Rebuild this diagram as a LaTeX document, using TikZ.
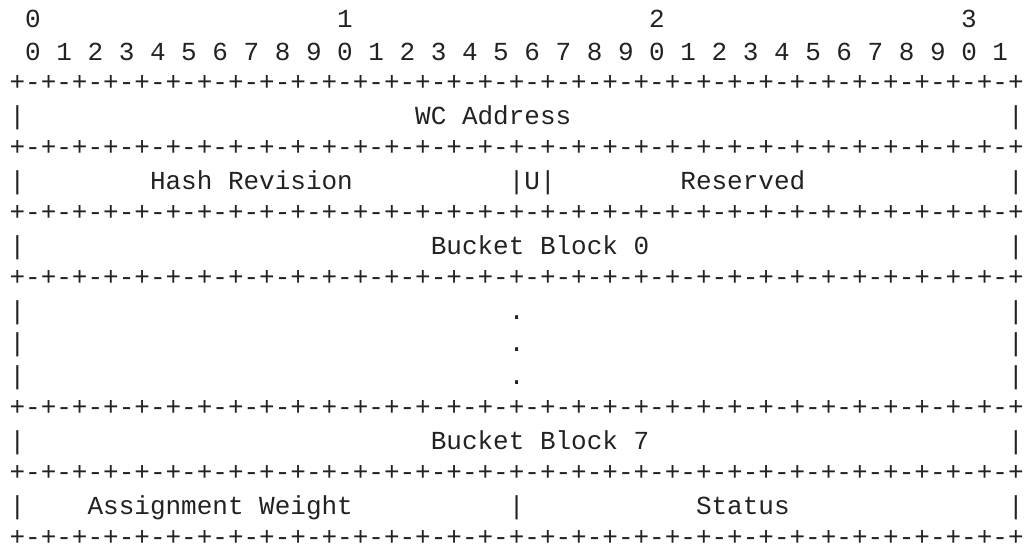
\documentclass[tikz,border=0pt]{standalone}
\usepackage{fontspec}
\newfontfamily\asciimono{Liberation Mono}
\definecolor{ink}{HTML}{222222}
\def\bq{+-+-+-+-+-+-+-+-}
\def\colx#1{9.6+#1*15.6}
\def\rowy#1{26.6+(#1-1)*32.5}
\begin{document}
\begin{tikzpicture}[x=1pt,y=-1pt,
  txt/.style={anchor=base west,inner sep=0pt,outer sep=0pt,text=ink,
    font=\asciimono\fontsize{26}{30}\selectfont}]
\useasboundingbox[fill=white] (0,0) rectangle (1025,546);
% bit ruler
\node[txt] (ten0) at ({\colx{1}},27.7) {0};
\node[txt] (ten1) at ({\colx{21}},27.7) {1};
\node[txt] (ten2) at ({\colx{41}},27.7) {2};
\node[txt] (ten3) at ({\colx{61}},27.7) {3};
\node[txt] (units) at ({\colx{1}},60.5) {0 1 2 3 4 5 6 7 8 9 0 1 2 3 4 5 6 7 8 9 0 1 2 3 4 5 6 7 8 9 0 1};
% borders
\foreach \r in {3,5,7,9,13,15,17}
  \node[txt] (border\r) at ({\colx{0}},{\rowy{\r}-1}) {\smash{\bq\bq\bq\bq+}};
% side bars
\foreach \r in {4,6,8,10,11,12,14,16}{
  \node[txt] (left\r) at ({\colx{0}},{\rowy{\r}}) {|};
  \node[txt] (right\r) at ({\colx{64}},{\rowy{\r}}) {|};
}
% fields
\node[txt] (wc) at ({\colx{26}},{\rowy{4}}) {WC Address};
\node[txt] (hash) at ({\colx{9}},{\rowy{6}}) {Hash Revision};
\node[txt] (ubit) at ({\colx{32}},{\rowy{6}}) {|U|};
\node[txt] (res) at ({\colx{43}},{\rowy{6}}) {Reserved};
\node[txt] (bb0) at ({\colx{27}},{\rowy{8}}) {Bucket Block 0};
\foreach \r in {10,11,12}
  \node[txt] (dot\r) at ({\colx{32}},{\rowy{\r}}) {.};
\node[txt] (bb7) at ({\colx{27}},{\rowy{14}}) {Bucket Block 7};
\node[txt] (aw) at ({\colx{5}},{\rowy{16}}) {Assignment Weight};
\node[txt] (sep) at ({\colx{32}},{\rowy{16}}) {|};
\node[txt] (status) at ({\colx{44}},{\rowy{16}}) {Status};
\end{tikzpicture}
\end{document}
